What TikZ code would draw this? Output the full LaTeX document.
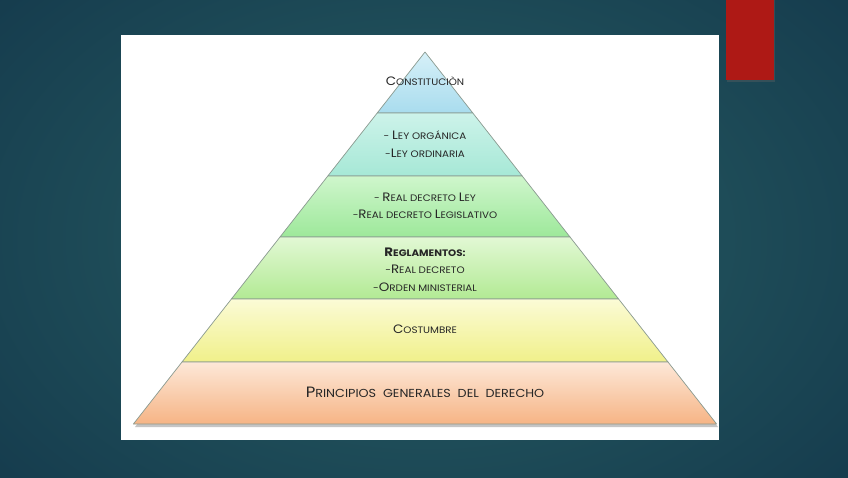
\documentclass[tikz,border=0pt]{standalone}
\usepackage{fontspec}
\setmainfont{Poppins}[FakeStretch=1.1]
\definecolor{bgin}{HTML}{285F64}
\definecolor{bgout}{HTML}{153B4D}
\definecolor{redbar}{HTML}{AE1915}
\definecolor{txt}{HTML}{262626}
\definecolor{edge}{HTML}{8A9A90}
\definecolor{aT}{HTML}{D6F0F8}\definecolor{aB}{HTML}{A9DCEE}
\definecolor{bT}{HTML}{CDF3EA}\definecolor{bB}{HTML}{A6E8D6}
\definecolor{cT}{HTML}{CFF6CC}\definecolor{cB}{HTML}{9DE89A}
\definecolor{dT}{HTML}{E2F8D4}\definecolor{dB}{HTML}{B2EA94}
\definecolor{eT}{HTML}{FBFBD6}\definecolor{eB}{HTML}{F0F08A}
\definecolor{fT}{HTML}{FDE8D8}\definecolor{fB}{HTML}{F6B485}
\newcommand\Bc[1]{{\fontsize{12.2}{13}\selectfont #1}}
\newcommand\Bl[1]{{\fontsize{15}{16}\selectfont #1}}
\tikzset{
  lbl/.style={font=\fontsize{9.4}{17.5}\selectfont, text=txt, align=center, inner sep=0pt},
  lblbig/.style={font=\fontsize{11.6}{13}\selectfont, text=txt, align=center, inner sep=0pt},
  layer/.style={draw=edge, line width=0.7pt, line join=round}
}
\begin{document}
\begin{tikzpicture}[x=1pt,y=-1pt]
\useasboundingbox (0,0) rectangle (848,477);
% background
\shade[inner color=bgin, outer color=bgout] (-150,-150) rectangle (998,627);
% white panel
\fill[white] (121,35) rectangle (719,440);
% red tab
\fill[black!60,opacity=0.35] (727,0) rectangle (775,82);
\fill[redbar] (726,0) rectangle (774,80);
% pyramid shadow
\fill[black!45,opacity=0.5] (425,53) -- (718,427) -- (135,427) -- cycle;
% layers
\shade[layer, top color=aT, bottom color=aB] (425,52) -- (472.8,113) -- (377.2,113) -- cycle;
\shade[layer, top color=bT, bottom color=bB] (377.2,113) -- (472.8,113) -- (522.2,176) -- (327.8,176) -- cycle;
\shade[layer, top color=cT, bottom color=cB] (327.8,176) -- (522.2,176) -- (570,237) -- (280,237) -- cycle;
\shade[layer, top color=dT, bottom color=dB] (280,237) -- (570,237) -- (618.6,299) -- (231.4,299) -- cycle;
\shade[layer, top color=eT, bottom color=eB] (231.4,299) -- (618.6,299) -- (668,362) -- (182,362) -- cycle;
\shade[layer, top color=fT, bottom color=fB] (182,362) -- (668,362) -- (716.6,424) -- (133.4,424) -- cycle;
% labels
\node[lbl] (t1) at (425,81) {\Bc{C}ONSTITUCIÒN};
\node[lbl] (t2) at (425,144) {- \Bc{L}EY ORGÁNICA\\-\Bc{L}EY ORDINARIA};
\node[lbl] (t3) at (425,206) {- \Bc{R}EAL DECRETO \Bc{L}EY\\-\Bc{R}EAL DECRETO \Bc{L}EGISLATIVO};
\node[lbl] (t4) at (425,269.5) {\textbf{\Bc{R}EGLAMENTOS:}\\-\Bc{R}EAL DECRETO\\-\Bc{O}RDEN MINISTERIAL};
\node[lbl] (t5) at (425,329) {\Bc{C}OSTUMBRE};
\node[lblbig] (t6) at (425,392) {\Bl{P}RINCIPIOS\ \ GENERALES\ \ DEL\ \ DERECHO};
\end{tikzpicture}
\end{document}
